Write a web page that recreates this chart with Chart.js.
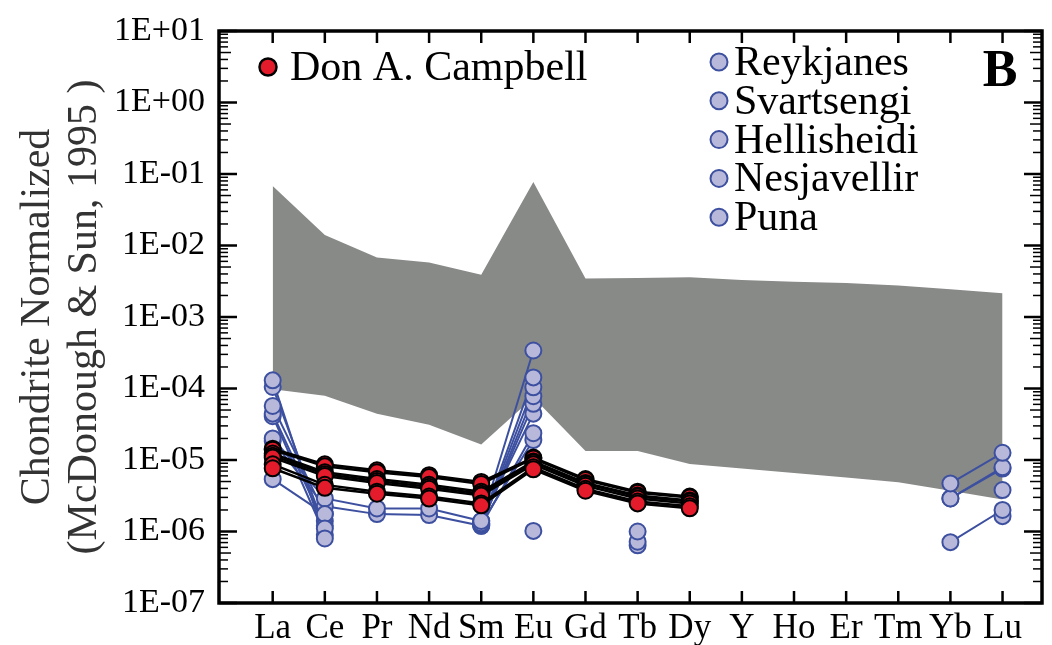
<!DOCTYPE html>
<html><head><meta charset="utf-8">
<script src="https://cdn.jsdelivr.net/npm/chart.js@4.4.1/dist/chart.umd.min.js"></script>
<style>html,body{margin:0;padding:0;background:#fff;overflow:hidden}#wrap{width:1052px;height:645px}</style>
</head><body><div id="wrap"><canvas id="c" width="1052" height="645"></canvas></div>
<script>
// ---- categories & ticks ----
const elements = ['La','Ce','Pr','Nd','Sm','Eu','Gd','Tb','Dy','Y','Ho','Er','Tm','Yb','Lu'];
const yTickValues = [1e-7,1e-6,1e-5,1e-4,1e-3,1e-2,1e-1,1e0,1e1];
const yTickLabels = ['1E-07','1E-06','1E-05','1E-04','1E-03','1E-02','1E-01','1E+00','1E+01'];

// ---- grey range envelope ----
const rangeUpper = [6.8e-2,1.4e-2,6.8e-3,5.8e-3,3.9e-3,7.7e-2,3.45e-3,3.5e-3,3.6e-3,3.3e-3,3.1e-3,3.0e-3,2.75e-3,2.45e-3,2.15e-3];
const rangeLower = [9.8e-5,7.9e-5,4.45e-5,3.1e-5,1.65e-5,7.5e-5,1.34e-5,1.34e-5,8.8e-6,7.6e-6,6.6e-6,5.7e-6,4.9e-6,3.7e-6,2.8e-6];

// ---- Don A. Campbell samples (La..Dy) ----
const campbellLabel = 'Don A. Campbell';
const campbell1 = [1.44e-5,8.69e-6,7.19e-6,6.14e-6,4.93e-6,1.08e-5,5.42e-6,3.6e-6,3.08e-6,null,null,null,null,null,null];
const campbell2 = [1.39e-5,8.15e-6,6.75e-6,5.77e-6,4.63e-6,1.05e-5,5.25e-6,3.49e-6,2.98e-6,null,null,null,null,null,null];
const campbell3 = [1.23e-5,6.75e-6,5.42e-6,4.49e-6,3.6e-6,9.55e-6,4.78e-6,3.18e-6,2.71e-6,null,null,null,null,null,null];
const campbell4 = [1.15e-5,6.34e-6,5.08e-6,4.22e-6,3.38e-6,9.25e-6,4.63e-6,3.08e-6,2.63e-6,null,null,null,null,null,null];
const campbell5 = [1.08e-5,5.96e-6,4.78e-6,3.95e-6,3.18e-6,8.69e-6,4.35e-6,2.89e-6,2.47e-6,null,null,null,null,null,null];
const campbell6 = [8.69e-6,4.49e-6,3.6e-6,3.08e-6,2.47e-6,7.9e-6,3.95e-6,2.63e-6,2.25e-6,null,null,null,null,null,null];
const campbell7 = [7.66e-6,4.08e-6,3.38e-6,2.89e-6,2.32e-6,7.41e-6,3.72e-6,2.47e-6,2.11e-6,null,null,null,null,null,null];

// ---- geothermal fluids ----
const siteNames = ['Reykjanes','Svartsengi','Hellisheidi','Nesjavellir','Puna'];
const reykjanes1   = [1.3e-4,8.0e-7,null,null,1.4e-6,3.4e-4,null,null,null,null,null,null,null,4.7e-6,1.26e-5];
const reykjanes2   = [1.05e-4,1.1e-6,null,null,1.3e-6,1.43e-4,null,null,null,null,null,null,null,2.9e-6,7.9e-6];
const svartsengi1  = [5.7e-5,1.75e-6,null,null,1.25e-6,1.04e-4,null,null,null,null,null,null,null,2.9e-6,7.6e-6];
const svartsengi2  = [4.45e-5,1.2e-6,null,null,1.2e-6,7.8e-5,null,null,null,null,null,null,null,7.1e-7,2.0e-6];
const hellisheidi1 = [4.1e-5,9.0e-7,null,null,1.25e-6,6.1e-5,null,1.0e-6,null,null,null,null,null,null,3.8e-6];
const nesjavellir1 = [2.0e-5,2.9e-6,2.1e-6,2.1e-6,1.4e-6,4.45e-5,null,7.2e-7,null,null,null,null,null,null,1.64e-6];
const nesjavellir2 = [1.85e-5,2.25e-6,1.75e-6,1.7e-6,1.2e-6,2.37e-5,null,6.4e-7,null,null,null,null,null,null,null];
const puna1        = [5.4e-6,1.75e-6,null,null,1.3e-6,1.9e-5,null,null,null,null,null,null,null,null,null];
const puna2        = [null,1.4e-6,null,null,null,1.02e-6,null,null,null,null,null,null,null,null,null];
const panelLetter = 'B';

// ---- styling ----
const RED = '#e31b2b', LAV = '#b8b9da', BLUE = '#3d50a0', GREY = '#888a88';
const SERIF = '"Liberation Serif","Times New Roman",serif';

function series(vals){ return vals.map((v,i)=>({x:i,y:v})); }
const datasets = [];
const campbellSamples = [campbell7,campbell6,campbell5,campbell4,campbell3,campbell2,campbell1];
const blueSets = [[reykjanes1,0],[reykjanes2,0],[svartsengi1,1],[svartsengi2,1],[hellisheidi1,2],[nesjavellir1,3],[nesjavellir2,3],[puna1,4],[puna2,4]];

campbellSamples.forEach(v=>{
  datasets.push({label:campbellLabel,data:series(v),order:2,borderColor:'#000',borderWidth:2.5,pointRadius:0,
    fill:false,spanGaps:false,tension:0});
});
blueSets.forEach(([v,s])=>{
  datasets.push({label:siteNames[s],data:series(v),order:4,borderColor:BLUE,borderWidth:2,pointRadius:0,
    fill:false,spanGaps:false,tension:0});
});
campbellSamples.forEach(v=>{
  datasets.push({label:campbellLabel,data:series(v),order:1,showLine:false,
    pointBackgroundColor:RED,pointBorderColor:'#000',pointBorderWidth:2,pointRadius:8,backgroundColor:RED});
});
blueSets.forEach(([v,s])=>{
  datasets.push({label:siteNames[s],data:series(v),order:3,showLine:false,
    pointBackgroundColor:LAV,pointBorderColor:BLUE,pointBorderWidth:2,pointRadius:8,backgroundColor:LAV});
});
datasets.push({label:'range upper',data:series(rangeUpper),order:9,borderWidth:0,borderColor:'rgba(0,0,0,0)',pointRadius:0,
  backgroundColor:GREY,fill:'+1',tension:0});
datasets.push({label:'range lower',data:series(rangeLower),order:10,borderWidth:0,borderColor:'rgba(0,0,0,0)',pointRadius:0,
  backgroundColor:GREY,fill:false,tension:0});

const framePlugin = {
  id:'frame',
  afterDatasetsDraw(chart){
    const {ctx, chartArea:a, scales:{x,y}} = chart;
    const line=(x1,y1,x2,y2)=>{ctx.beginPath();ctx.moveTo(x1,y1);ctx.lineTo(x2,y2);ctx.stroke();};
    ctx.save();
    ctx.strokeStyle='#000';
    ctx.lineWidth=2.5;
    elements.forEach((_,i)=>{const px=x.getPixelForValue(i);line(px,a.bottom,px,a.bottom-12);line(px,a.top,px,a.top+12);});
    yTickValues.forEach(v=>{const py=y.getPixelForValue(v);line(a.left,py,a.left+18,py);line(a.right,py,a.right-18,py);});
    ctx.lineWidth=1.5;
    for(let e=-7;e<1;e++){for(let m=2;m<10;m++){const py=y.getPixelForValue(m*Math.pow(10,e));
      const L = m===5?12:9; line(a.left,py,a.left+L,py);line(a.right,py,a.right-L,py);}}
    ctx.lineWidth=3.5;
    ctx.strokeRect(a.left,a.top,a.right-a.left,a.bottom-a.top);
    ctx.restore();
  },
  afterDraw(chart){
    const {ctx} = chart;
    ctx.save();
    const dot=(cx,cy,fill,stroke,w)=>{ctx.beginPath();ctx.arc(cx,cy,8.5,0,Math.PI*2);ctx.fillStyle=fill;ctx.fill();ctx.lineWidth=w;ctx.strokeStyle=stroke;ctx.stroke();};
    ctx.textBaseline='alphabetic'; ctx.textAlign='left';
    dot(268,67,RED,'#000',2.5);
    ctx.font='42px '+SERIF; ctx.fillStyle='#000';
    ctx.fillText(campbellLabel,290,80);
    siteNames.forEach((n,i)=>{const cy=62+i*38.8;dot(719,cy,LAV,BLUE,2);ctx.font='42px '+SERIF;ctx.fillStyle='#000';ctx.fillText(n,734,cy+13);});
    ctx.font='bold 52px '+SERIF; ctx.textAlign='center'; ctx.fillStyle='#000';
    ctx.fillText(panelLetter,1000,86);
    ctx.restore();
  }
};

new Chart(document.getElementById('c'),{
  type:'line',
  data:{datasets},
  options:{
    responsive:false,animation:false,devicePixelRatio:1,events:[],
    layout:{padding:{top:18,right:5,bottom:0,left:0}},
    plugins:{legend:{display:false},tooltip:{enabled:false}},
    scales:{
      x:{type:'linear',min:-1.03,max:14.757,
        afterBuildTicks(s){s.ticks=elements.map((_,i)=>({value:i}));},
        afterFit(s){s.height=42;},
        grid:{display:false,drawTicks:false},border:{display:false},
        ticks:{autoSkip:false,maxRotation:0,padding:5,color:'#000',font:{family:SERIF,size:35,lineHeight:1.2},
          callback:(v)=>elements[v]}},
      y:{type:'logarithmic',min:1e-7,max:10,
        afterBuildTicks(s){s.ticks=yTickValues.map(v=>({value:v,major:true}));},
        afterFit(s){s.width=219;},
        grid:{display:false,drawTicks:false},border:{display:false},
        ticks:{autoSkip:false,padding:14,color:'#000',font:{family:SERIF,size:34,lineHeight:1.0},
          callback:(v)=>{const i=yTickValues.findIndex(t=>Math.abs(Math.log10(t)-Math.log10(v))<1e-6);return i>=0?yTickLabels[i]:'';}},
        title:{display:true,text:['Chondrite Normalized','(McDonough & Sun, 1995 )'],color:'#333',
          font:{family:SERIF,size:42,lineHeight:1.12},padding:{top:14,bottom:0}}}
    }
  },
  plugins:[framePlugin]
});
</script></body></html>
